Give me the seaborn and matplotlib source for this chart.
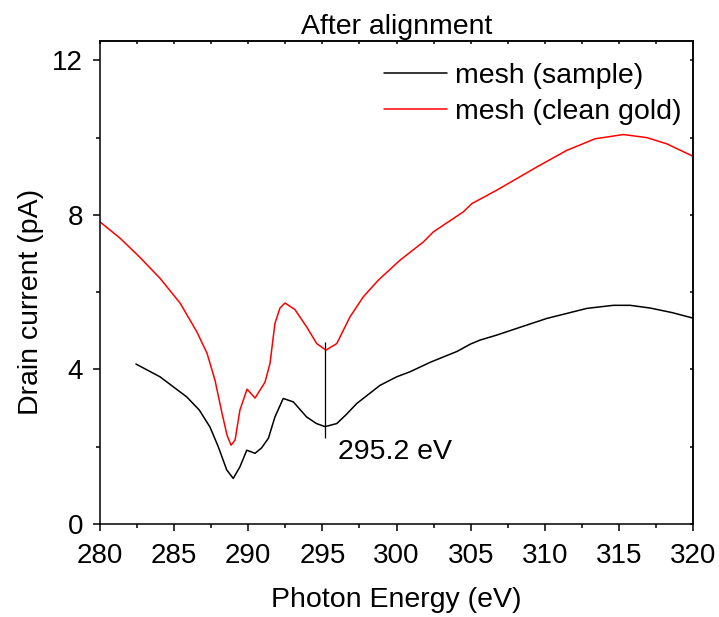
import matplotlib
matplotlib.use("Agg")
import matplotlib.pyplot as plt
import seaborn as sns
import pandas as pd
from matplotlib.ticker import MultipleLocator

sample_energy = [282.43, 284.05, 285.85, 286.7, 287.42, 287.98, 288.55, 288.99, 289.44, 289.90,
                 290.46, 290.9, 291.36, 291.80, 292.36, 293.04, 293.94, 294.6, 295.18, 295.97,
                 296.6, 297.32, 298.89, 300.01, 300.91, 302.3, 304.1, 305.0, 305.63, 306.76,
                 308.4, 310.13, 312.83, 314.62, 315.75, 317.10, 318.6, 319.98]
sample_current = [4.14, 3.81, 3.29, 2.95, 2.51, 2.00, 1.40, 1.18, 1.48, 1.91,
                  1.83, 1.97, 2.22, 2.77, 3.25, 3.16, 2.77, 2.60, 2.52, 2.60,
                  2.83, 3.12, 3.59, 3.81, 3.94, 4.19, 4.47, 4.66, 4.76, 4.89,
                  5.10, 5.32, 5.58, 5.66, 5.66, 5.59, 5.47, 5.33]

gold_energy = [280.0, 281.35, 282.70, 284.05, 285.40, 286.54, 287.22, 287.76, 288.23, 288.57,
               288.84, 289.11, 289.44, 289.92, 290.46, 291.13, 291.47, 291.80, 292.14, 292.48,
               293.15, 293.94, 294.62, 295.24, 295.97, 296.86, 297.76, 298.77, 300.24, 301.81,
               302.48, 304.51, 305.07, 306.76, 309.46, 311.48, 313.39, 315.30, 316.88, 318.22,
               319.98]
gold_current = [7.82, 7.40, 6.90, 6.36, 5.72, 4.97, 4.42, 3.72, 2.87, 2.30,
                2.04, 2.17, 2.95, 3.49, 3.26, 3.67, 4.16, 5.19, 5.59, 5.72,
                5.55, 5.10, 4.67, 4.50, 4.67, 5.36, 5.88, 6.31, 6.83, 7.30,
                7.56, 8.08, 8.29, 8.64, 9.24, 9.67, 9.97, 10.08, 10.00, 9.84,
                9.52]

marker_energy = 295.2
marker_range = [2.22, 4.71]
marker_label = "295.2 eV"

sns.set_theme(style="ticks")
plt.rcParams['font.family'] = ['Liberation Sans', 'DejaVu Sans']
plt.rcParams['text.color'] = 'black'
plt.rcParams['axes.labelcolor'] = 'black'
plt.rcParams['xtick.color'] = 'black'
plt.rcParams['ytick.color'] = 'black'
plt.rcParams['axes.edgecolor'] = 'black'
plt.rcParams['axes.linewidth'] = 1.1

fs = 20.5

fig = plt.figure(figsize=(7.19, 6.17), dpi=100)
ax = fig.add_axes([0.139, 0.1507, 0.825, 0.7828])

df_s = pd.DataFrame({"E": sample_energy, "I": sample_current})
df_g = pd.DataFrame({"E": gold_energy, "I": gold_current})
sns.lineplot(data=df_s, x="E", y="I", ax=ax, color="black", lw=1.1,
             sort=False, estimator=None, label="mesh (sample)")
sns.lineplot(data=df_g, x="E", y="I", ax=ax, color="red", lw=1.1,
             sort=False, estimator=None, label="mesh (clean gold)")

ax.vlines(marker_energy, marker_range[0], marker_range[1], color="black", lw=0.9)
ax.text(296.05, 1.86, marker_label, fontsize=fs, va="center", ha="left")

ax.set_xlim(280, 320)
ax.set_ylim(0, 12.5)
ax.xaxis.set_major_locator(MultipleLocator(5))
ax.xaxis.set_minor_locator(MultipleLocator(2.5))
ax.yaxis.set_major_locator(MultipleLocator(4))
ax.yaxis.set_minor_locator(MultipleLocator(2))
ax.tick_params(which="major", direction="out", length=4.8, width=1.1, labelsize=20)
ax.tick_params(which="minor", direction="out", length=3, width=1.1)
ax.tick_params(axis="x", which="major", pad=8.7)
ax.tick_params(axis="y", which="major", pad=7.3)

secx = ax.secondary_xaxis("top")
secx.xaxis.set_major_locator(MultipleLocator(2.5))
secx.tick_params(direction="in", length=2.2, width=1.1, labeltop=False)
secy = ax.secondary_yaxis("right")
secy.yaxis.set_major_locator(MultipleLocator(2))
secy.tick_params(direction="in", length=2.2, width=1.1, labelright=False)

ax.set_xlabel("Photon Energy (eV)", fontsize=fs, labelpad=13)
ax.set_ylabel("Drain current (pA)", fontsize=fs)
ax.yaxis.set_label_coords(-0.095, 0.46)
ax.set_title("After alignment", fontsize=fs, pad=5)

leg = ax.legend(loc="upper right", bbox_to_anchor=(1.0, 0.979), fontsize=fs,
                frameon=False, handlelength=2.2, handletextpad=0.3,
                borderaxespad=0.0, labelspacing=0.36)

fig.savefig("out.png", dpi=100)
